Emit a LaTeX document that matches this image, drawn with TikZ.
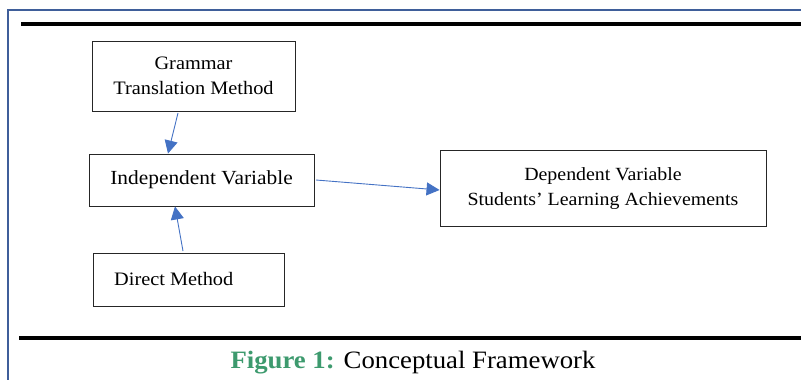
\documentclass[tikz,border=0pt]{standalone}
\usepackage{fontspec}
\setmainfont[FakeStretch=1.07]{Liberation Serif}
\usetikzlibrary{arrows.meta}
\definecolor{frameblue}{HTML}{3F5E9A}
\definecolor{arrowblue}{HTML}{4472C4}
\definecolor{capgreen}{HTML}{3D9A6E}
\tikzset{
  boxfont/.style={font=\fontsize{19}{25}\selectfont},
  boxnode/.style={draw=black!85, line width=0.9pt, inner sep=0pt, boxfont, align=center},
  conn/.style={draw=arrowblue, line width=0.9pt, -{Triangle[length=13pt,width=13pt]}}
}
\begin{document}
\begin{tikzpicture}[x=1pt,y=-1pt]
\useasboundingbox (0,0) rectangle (801,380);
% outer blue frame
\draw[frameblue, line width=2pt] (7.5,385) -- (7.5,9.5) -- (805,9.5);
% thick black rules
\draw[black, line width=3.5pt] (21,24) -- (805,24);
\draw[black, line width=3.2pt] (19,338) -- (805,338);
% boxes
\node[boxnode, minimum width=203pt, minimum height=70pt] (gtm) at (193.5,76) {Grammar\\Translation Method};
\node[boxnode, minimum width=225pt, minimum height=52pt, font=\fontsize{20}{25}\selectfont] (iv) at (201.5,180) {Independent Variable};
\node[boxnode, minimum width=191pt, minimum height=53pt] (dm) at (188.5,279.5) {};
\node[boxfont, anchor=west, inner sep=0pt] (dmt) at (114,279) {Direct Method};
\node[boxnode, minimum width=326pt, minimum height=76pt, font=\fontsize{18.6}{25}\selectfont] (dv) at (603,188.5) {Dependent Variable\\Students’ Learning Achievements};
% connectors
\coordinate (a1) at (178,113);
\coordinate (a2) at (183,251);
\draw[conn] (a1) -- (iv.north -| 168,0);
\draw[conn] (a2) -- (iv.south -| 175,0);
\coordinate (a3) at (316,180);
\draw[conn] (a3) -- (dv.west |- 0,190);
% caption
\node[font=\fontsize{25}{28}\selectfont, inner sep=0pt] (cap) at (413,363) {\textcolor{capgreen}{\textbf{Figure 1:}} Conceptual Framework};
\end{tikzpicture}
\end{document}
